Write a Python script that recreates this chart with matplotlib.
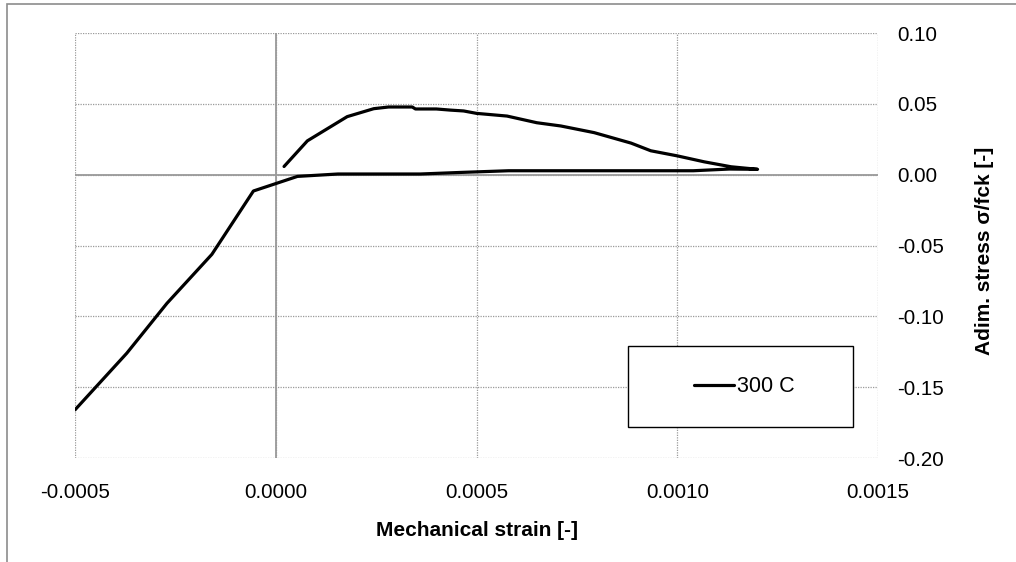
import matplotlib.pyplot as plt
from matplotlib.patches import Rectangle

# ====================================================================
# DATA
# ====================================================================

# loading branch, then unloading back along the upper path
strain = [-0.0005, -0.000371, -0.000271, -0.000159, -0.0000556, 0.000054,
          0.000155, 0.00036, 0.00046, 0.00058, 0.00104, 0.00113, 0.00120,
          0.001134, 0.001067, 0.00100, 0.000934, 0.000885, 0.000793,
          0.00071, 0.00065, 0.000576, 0.0005, 0.000468, 0.000435, 0.0004,
          0.000348, 0.00034, 0.000281, 0.000244, 0.000178, 0.0000788,
          0.0000207]
stress = [-0.166, -0.126, -0.0908, -0.0562, -0.0115, -0.0012,
          0.0005, 0.0005, 0.0016, 0.0028, 0.0028, 0.0040, 0.0038,
          0.0056, 0.0091, 0.0133, 0.0169, 0.0223, 0.0297,
          0.0344, 0.0367, 0.0414, 0.0433, 0.0450, 0.0456, 0.0464,
          0.0464, 0.0478, 0.0478, 0.0466, 0.041, 0.0239,
          0.0058]
series_label = '300 C'

x_ticks = [-0.0005, 0.0, 0.0005, 0.0010, 0.0015]
y_ticks = [-0.20, -0.15, -0.10, -0.05, 0.00, 0.05, 0.10]

# ====================================================================
# PLOT
# ====================================================================

plt.rcParams['font.family'] = ['Liberation Sans', 'DejaVu Sans']
GRID_GREY = '#9a9a9a'

fig = plt.figure(figsize=(10.16, 5.62), dpi=100)
ax = fig.add_axes([0.0738, 0.185, 0.7904, 0.7562])

ax.set_xlim(-0.0005, 0.0015)
ax.set_ylim(-0.20, 0.10)
ax.set_xticks(x_ticks)
ax.set_yticks(y_ticks)
ax.set_xticklabels([f'{v:.4f}' for v in x_ticks])
ax.set_yticklabels([f'{v:.2f}' for v in y_ticks])
ax.yaxis.tick_right()
ax.tick_params(axis='both', length=0, labelsize=14.8)
ax.tick_params(axis='x', pad=18)
ax.tick_params(axis='y', pad=14)
for lab in ax.get_yticklabels():
    lab.set_horizontalalignment('left')

for s in ax.spines.values():
    s.set_visible(False)
ax.grid(True, color=GRID_GREY, linestyle=(0, (1, 1)), linewidth=0.9)
ax.axhline(0, color=GRID_GREY, linewidth=1.3, zorder=1)
ax.axvline(0, color=GRID_GREY, linewidth=1.3, zorder=1)

ax.plot(strain, stress, color='black', linewidth=2.3, label=series_label,
        solid_joinstyle='round', solid_capstyle='round', zorder=3)

# legend: framed box drawn separately, content centred inside
ax.add_patch(Rectangle((0.6887, 0.0729), 0.2802, 0.1906, transform=ax.transAxes,
                       facecolor='white', edgecolor='black', linewidth=1.0,
                       zorder=4))
leg = ax.legend(loc='center', bbox_to_anchor=(0.8337, 0.168), frameon=False,
                fontsize=15.5, handlelength=1.85, handletextpad=0.12)
leg.set_zorder(5)

fig.text(476.5 / 1016, 1 - 530 / 562, 'Mechanical strain [-]', fontsize=15,
         fontweight='bold', ha='center', va='center')
fig.text(984 / 1016, 1 - 251 / 562, 'Adim. stress σ/fck [-]', fontsize=15,
         fontweight='bold', ha='center', va='center', rotation=90)

# outer chart border
fig.patches.append(Rectangle((6.5 / 1016, -0.1), 1.2, 1.1 - 4.5 / 562,
                             transform=fig.transFigure, fill=False,
                             edgecolor='#8c8c8c', linewidth=1.2))

fig.savefig('out.png', dpi=100)
